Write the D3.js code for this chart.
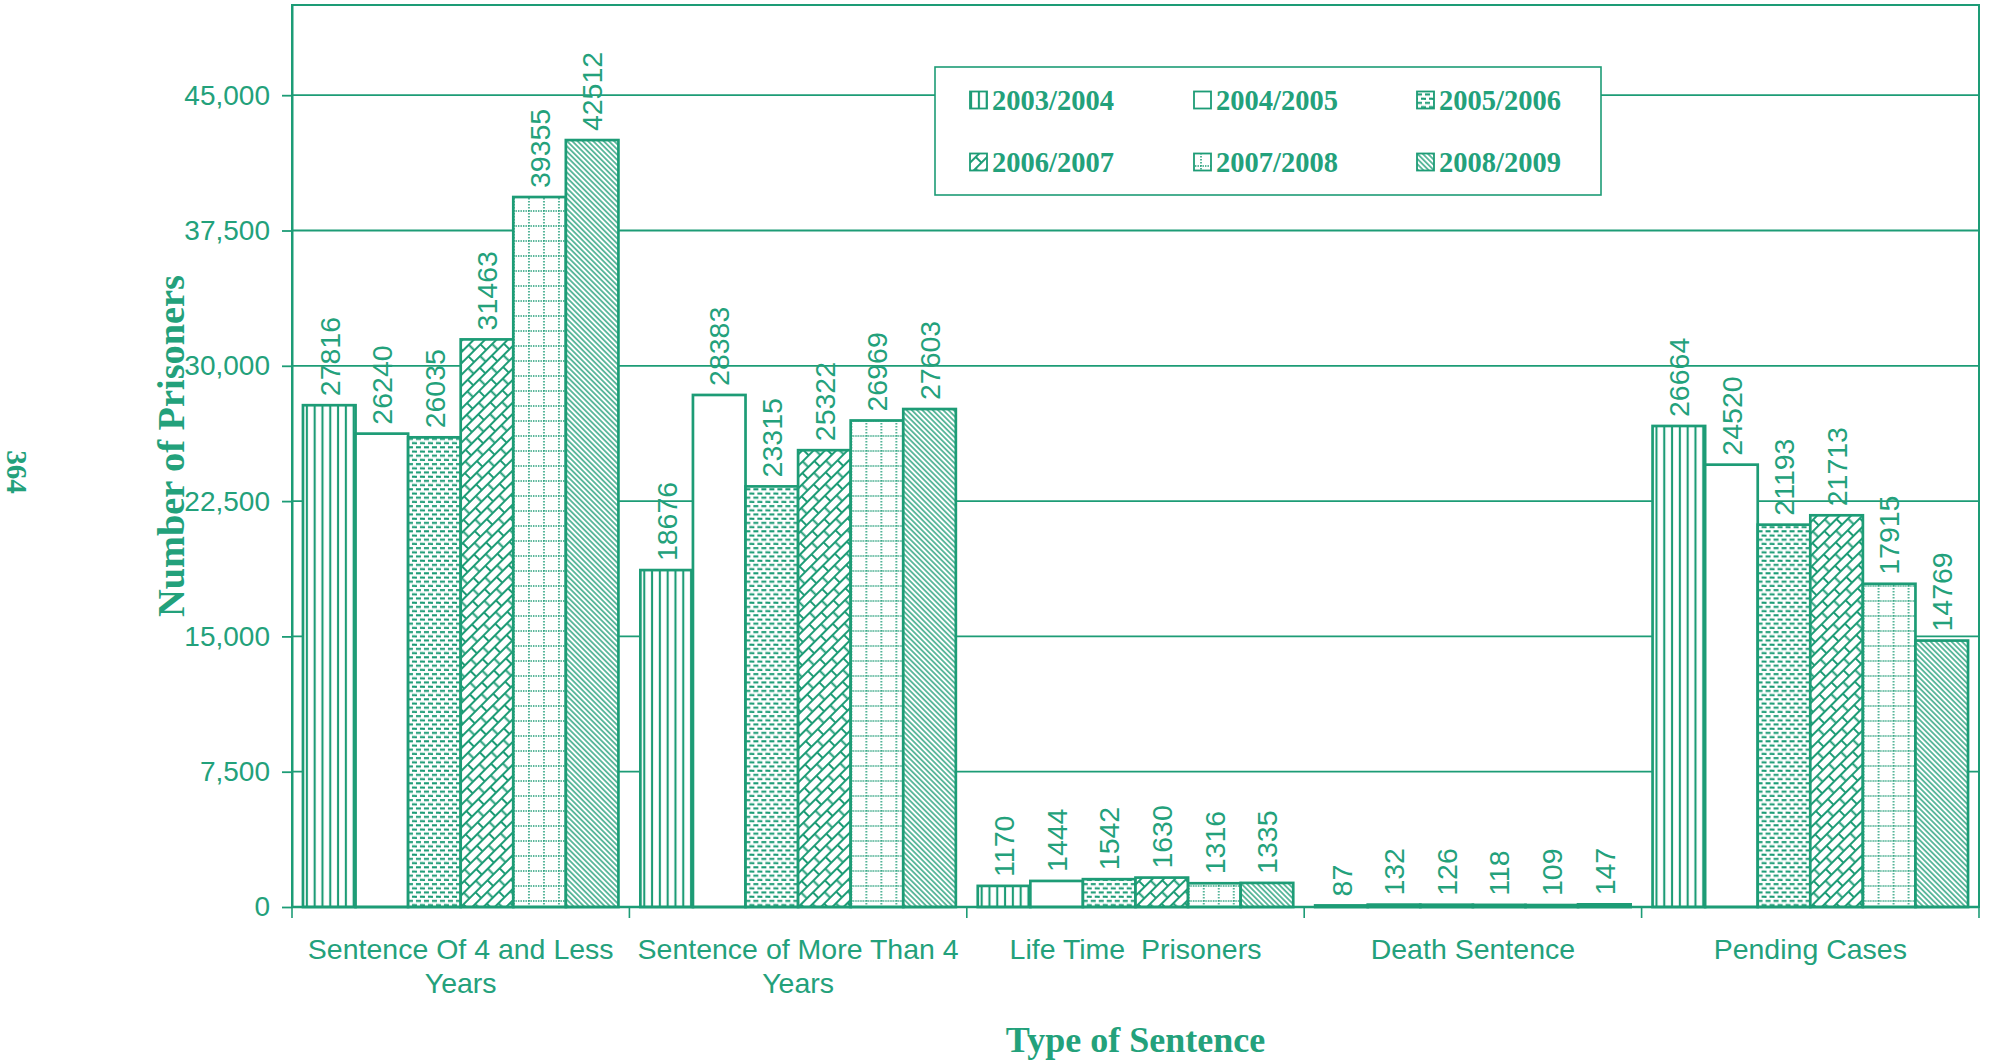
<!DOCTYPE html>
<html>
<head>
<meta charset="utf-8">
<script src="https://cdn.jsdelivr.net/npm/d3@7"></script>
<style>
  html, body { margin: 0; padding: 0; background: #ffffff; }
  svg { display: block; }
</style>
</head>
<body>
<svg id="chart" width="1989" height="1062"></svg>
<script>
// ---------------- DATA ----------------
const categories = [
  "Sentence Of 4 and Less Years",
  "Sentence of More Than 4 Years",
  "Life Time  Prisoners",
  "Death Sentence",
  "Pending Cases"
];
const categoryLabelLines = [
  ["Sentence Of 4 and Less", "Years"],
  ["Sentence of More Than 4", "Years"],
  ["Life Time  Prisoners"],
  ["Death Sentence"],
  ["Pending Cases"]
];
const series = ["2003/2004", "2004/2005", "2005/2006", "2006/2007", "2007/2008", "2008/2009"];
const values2003_2004 = [27816, 18676, 1170, 87, 26664];
const values2004_2005 = [26240, 28383, 1444, 132, 24520];
const values2005_2006 = [26035, 23315, 1542, 126, 21193];
const values2006_2007 = [31463, 25322, 1630, 118, 21713];
const values2007_2008 = [39355, 26969, 1316, 109, 17915];
const values2008_2009 = [42512, 27603, 1335, 147, 14769];
const seriesValues = [values2003_2004, values2004_2005, values2005_2006,
                      values2006_2007, values2007_2008, values2008_2009];
const yTicks = [0, 7500, 15000, 22500, 30000, 37500, 45000];
const yMax = 50000;
const yTitle = "Number of Prisoners";
const xTitle = "Type of Sentence";
const pageNumber = "364";

// ---------------- STYLE ----------------
const GREEN = "#1d9c76";
const TEXT_GREEN = "#23a17b";
const SANS = "'Liberation Sans', Arial, Helvetica, sans-serif";
const SERIF = "'Liberation Serif', 'Times New Roman', Times, serif";

const svg = d3.select("#chart");
svg.append("rect").attr("width", 1989).attr("height", 1062).attr("fill", "#fff");

const plot = { left: 292, right: 1979, top: 5, bottom: 907 };

const x0 = d3.scaleBand().domain(categories)
  .range([plot.left, plot.right]).paddingInner(0.065).paddingOuter(0.0325);
const x1 = d3.scaleBand().domain(series).range([0, x0.bandwidth()]);
const y = d3.scaleLinear().domain([0, yMax]).range([plot.bottom, plot.top]);

// ---------------- PATTERNS ----------------
const defs = svg.append("defs");
function pat(id, w, h, transform) {
  const p = defs.append("pattern").attr("id", id)
    .attr("patternUnits", "userSpaceOnUse").attr("width", w).attr("height", h);
  if (transform) p.attr("patternTransform", transform);
  p.append("rect").attr("width", w).attr("height", h).attr("fill", "#fff");
  return p;
}
// 0: vertical lines
{
  const p = pat("p0", 7.8, 10);
  p.append("line").attr("x1", 3.9).attr("x2", 3.9).attr("y1", 0).attr("y2", 10)
    .attr("stroke", GREEN).attr("stroke-width", 2.1);
}
// 1: plain white
pat("p1", 10, 10);
// 2: staggered short dashes
{
  const p = pat("p2", 8, 8.4);
  const s = (a, b, yy) => p.append("line").attr("x1", a).attr("x2", b)
    .attr("y1", yy).attr("y2", yy).attr("stroke", GREEN).attr("stroke-width", 2.1);
  s(1, 6, 2.1);
  s(-3, 2, 6.3);
  s(5, 11, 6.3);
}
// 3: diagonal brick
{
  const p = pat("p3", 17, 16, "rotate(-45)");
  p.append("path")
    .attr("d", "M0,1 H17 M0,9 H17 M1,1 V9 M9.5,9 V17")
    .attr("fill", "none").attr("stroke", GREEN).attr("stroke-width", 2);
}
// 4: dotted grid
{
  const p = pat("p4", 15, 15);
  p.append("line").attr("x1", 0).attr("x2", 15).attr("y1", 1).attr("y2", 1)
    .attr("stroke", GREEN).attr("stroke-width", 1.6).attr("stroke-dasharray", "1.4 1.1");
  p.append("line").attr("x1", 1).attr("x2", 1).attr("y1", 0).attr("y2", 15)
    .attr("stroke", GREEN).attr("stroke-width", 1.5).attr("stroke-dasharray", "1.4 1.6");
}
// 5: diagonal lines "\"
{
  const p = pat("p5", 3.7, 10, "rotate(-45)");
  p.append("line").attr("x1", 1.85).attr("x2", 1.85).attr("y1", 0).attr("y2", 10)
    .attr("stroke", GREEN).attr("stroke-width", 1.35);
}

// ---------------- GRID + AXES ----------------
const grid = svg.append("g");
grid.selectAll("line").data(yTicks.filter(d => d > 0)).join("line")
  .attr("x1", plot.left).attr("x2", plot.right)
  .attr("y1", d => y(d)).attr("y2", d => y(d))
  .attr("stroke", GREEN).attr("stroke-width", 1.8);

// plot border
svg.append("rect")
  .attr("x", plot.left).attr("y", plot.top)
  .attr("width", plot.right - plot.left).attr("height", plot.bottom - plot.top)
  .attr("fill", "none").attr("stroke", GREEN).attr("stroke-width", 2);

const yAxis = svg.append("g").attr("transform", `translate(${plot.left},0)`)
  .call(d3.axisLeft(y).tickValues(yTicks).tickSizeInner(10).tickSizeOuter(0).tickPadding(12)
    .tickFormat(d3.format(",")));
yAxis.select(".domain").attr("stroke", GREEN).attr("stroke-width", 2);
yAxis.selectAll(".tick line").attr("stroke", GREEN).attr("stroke-width", 1.8);
yAxis.selectAll(".tick text").attr("fill", TEXT_GREEN)
  .attr("font-family", SANS).attr("font-size", 28);

// ---------------- BARS ----------------
const groups = svg.append("g").selectAll("g").data(categories).join("g")
  .attr("transform", c => `translate(${x0(c)},0)`);
groups.each(function (c, ci) {
  const g = d3.select(this);
  const rows = series.map((s, si) => ({ s, si, v: seriesValues[si][ci] }));
  g.selectAll("rect").data(rows).join("rect")
    .attr("x", d => x1(d.s)).attr("y", d => y(d.v))
    .attr("width", x1.bandwidth()).attr("height", d => y(0) - y(d.v))
    .attr("fill", d => `url(#p${d.si})`)
    .attr("stroke", GREEN).attr("stroke-width", 2.7);
  g.selectAll("text").data(rows).join("text")
    .attr("transform", d => `translate(${x1(d.s) + x1.bandwidth() / 2},${y(d.v) - 9}) rotate(-90)`)
    .attr("dy", "0.36em")
    .attr("text-anchor", "start")
    .attr("fill", TEXT_GREEN).attr("font-family", SANS).attr("font-size", 28.5)
    .text(d => d.v);
});

// bottom axis line + category boundary ticks
svg.append("line").attr("x1", plot.left).attr("x2", plot.right)
  .attr("y1", plot.bottom).attr("y2", plot.bottom)
  .attr("stroke", GREEN).attr("stroke-width", 2.4);
const boundaries = d3.range(categories.length + 1).map(i => plot.left + i * x0.step());
svg.append("g").selectAll("line").data(boundaries).join("line")
  .attr("x1", d => d).attr("x2", d => d)
  .attr("y1", plot.bottom).attr("y2", plot.bottom + 11)
  .attr("stroke", GREEN).attr("stroke-width", 1.6);

// category labels
const catG = svg.append("g");
categories.forEach((c, ci) => {
  const t = catG.append("text")
    .attr("x", x0(c) + x0.bandwidth() / 2).attr("y", 959)
    .attr("text-anchor", "middle").attr("fill", TEXT_GREEN)
    .attr("font-family", SANS).attr("font-size", 28.5)
    .style("white-space", "pre");
  categoryLabelLines[ci].forEach((line, li) => {
    t.append("tspan").attr("x", x0(c) + x0.bandwidth() / 2)
      .attr("dy", li === 0 ? 0 : 34).text(line);
  });
});

// ---------------- LEGEND ----------------
const legend = svg.append("g");
legend.append("rect").attr("x", 935).attr("y", 67).attr("width", 666).attr("height", 128)
  .attr("fill", "#fff").attr("stroke", GREEN).attr("stroke-width", 1.6);
const legCols = [992, 1216, 1439];
const legRows = [100, 162];
series.forEach((s, si) => {
  const cx = legCols[si % 3], cy = legRows[Math.floor(si / 3)];
  legend.append("rect").attr("x", cx - 22).attr("y", cy - 8.5).attr("width", 17).attr("height", 17)
    .attr("fill", `url(#p${si})`).attr("stroke", GREEN).attr("stroke-width", 1.8);
  legend.append("text").attr("x", cx).attr("y", cy).attr("dy", "0.34em")
    .attr("fill", TEXT_GREEN).attr("font-family", SERIF).attr("font-weight", "bold")
    .attr("font-size", 28.5).text(s);
});

// ---------------- TITLES ----------------
svg.append("text")
  .attr("transform", "translate(171,446) rotate(-90)")
  .attr("dy", "0.35em").attr("text-anchor", "middle")
  .attr("textLength", 342).attr("lengthAdjust", "spacingAndGlyphs")
  .attr("fill", TEXT_GREEN).attr("font-family", SERIF).attr("font-weight", "bold")
  .attr("font-size", 38).text(yTitle);

svg.append("text")
  .attr("x", (plot.left + plot.right) / 2).attr("y", 1052)
  .attr("text-anchor", "middle")
  .attr("fill", TEXT_GREEN).attr("font-family", SERIF).attr("font-weight", "bold")
  .attr("font-size", 36).text(xTitle);

// page number from the scanned page
svg.append("text")
  .attr("transform", "translate(17,472) rotate(90)")
  .attr("dy", "0.35em").attr("text-anchor", "middle")
  .attr("fill", TEXT_GREEN).attr("font-family", SERIF).attr("font-weight", "bold")
  .attr("font-size", 29).text(pageNumber);
</script>
</body>
</html>
